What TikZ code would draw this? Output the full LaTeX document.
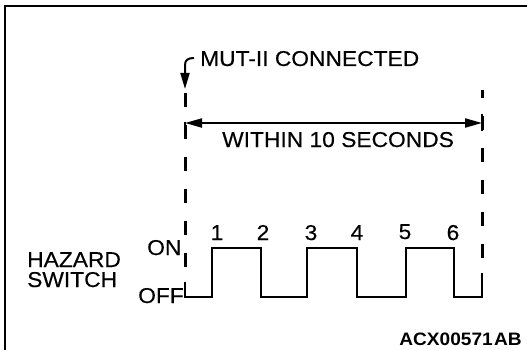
\documentclass[tikz,border=0pt]{standalone}
\usepackage{fontspec}
\setmainfont{Liberation Sans}[FakeStretch=1.06]
\newfontfamily\lblfont{Liberation Sans}[FakeStretch=1.06, FakeBold=0.35]
\usetikzlibrary{arrows.meta}
\tikzset{
  lbl/.style={inner sep=0pt, font=\lblfont\fontsize{21.5}{24}\selectfont},
  num/.style={inner sep=0pt, anchor=base, font=\lblfont\fontsize{21.5}{24}\selectfont},
  dline/.style={line width=3pt, dash pattern=on 14pt off 18pt},
  wave/.style={line width=2.3pt, line join=miter},
  frame/.style={line width=2.4pt},
  arr/.style={line width=2pt, -{Triangle[length=16pt,width=9pt]}},
  tick/.style={line width=2.2pt}
}
\begin{document}
\begin{tikzpicture}[x=1pt,y=-1pt]
\useasboundingbox (0,0) rectangle (527,350);
% frame (open at right and bottom)
\draw[frame] (5,352) -- (5,6) -- (529,6);
% dashed marker lines
\coordinate (Ltop) at (185,93);
\coordinate (Lbot) at (185,267);
\coordinate (Rtop) at (482,90);
\coordinate (Rbot) at (482,258);
\draw[dline] (Ltop) -- (Lbot);
\draw[dline, dash phase=6pt] (Rtop) -- (Rbot);
% MUT-II connected arrow
\coordinate (hookS) at (194,58);
\coordinate (hookE) at (185,89);
\draw[arr] (hookS) .. controls (188,58) and (185,60) .. (185,65) -- (hookE);
\node[lbl, anchor=base west] (mut) at (200,66) {MUT-II CONNECTED};
% within 10 seconds arrow
\coordinate (wL) at (185,123);
\coordinate (wR) at (482,123);
\draw[line width=2pt, {Triangle[length=17pt,width=9pt]}-{Triangle[length=17pt,width=9pt]}] (wL) -- (wR);
\draw[tick] (185,122) -- (185,136);
\draw[tick] (482,114) -- (482,131);
\node[lbl, anchor=base west] (within) at (222,147) {WITHIN 10 SECONDS};
% waveform
\coordinate (w0) at (185,282);
\coordinate (w1) at (482,273);
\draw[wave] (w0) -- (185,297) -- (212,297) -- (212,248) -- (261,248) -- (261,297)
  -- (307,297) -- (307,248) -- (357,248) -- (357,297) -- (406,297) -- (406,248)
  -- (454,248) -- (454,297) -- (482,297) -- (w1);
% numbers
\node[num] (n1) at (217,240) {1};
\node[num] (n2) at (263,240) {2};
\node[num] (n3) at (311,240) {3};
\node[num] (n4) at (357,240) {4};
\node[num] (n5) at (405,239) {5};
\node[num] (n6) at (453,240) {6};
% labels
\node[lbl, anchor=base west] (on) at (147,255) {ON};
\node[lbl, anchor=base west] (off) at (138,303) {OFF};
\node[lbl, anchor=base west] (haz) at (27,267) {HAZARD};
\node[lbl, anchor=base west] (sw) at (27,287) {SWITCH};
\node[inner sep=0pt, anchor=base east, font=\fontsize{18}{20}\selectfont\bfseries] (code) at (522,345) {ACX00571\kern1.5pt AB};
\end{tikzpicture}
\end{document}
